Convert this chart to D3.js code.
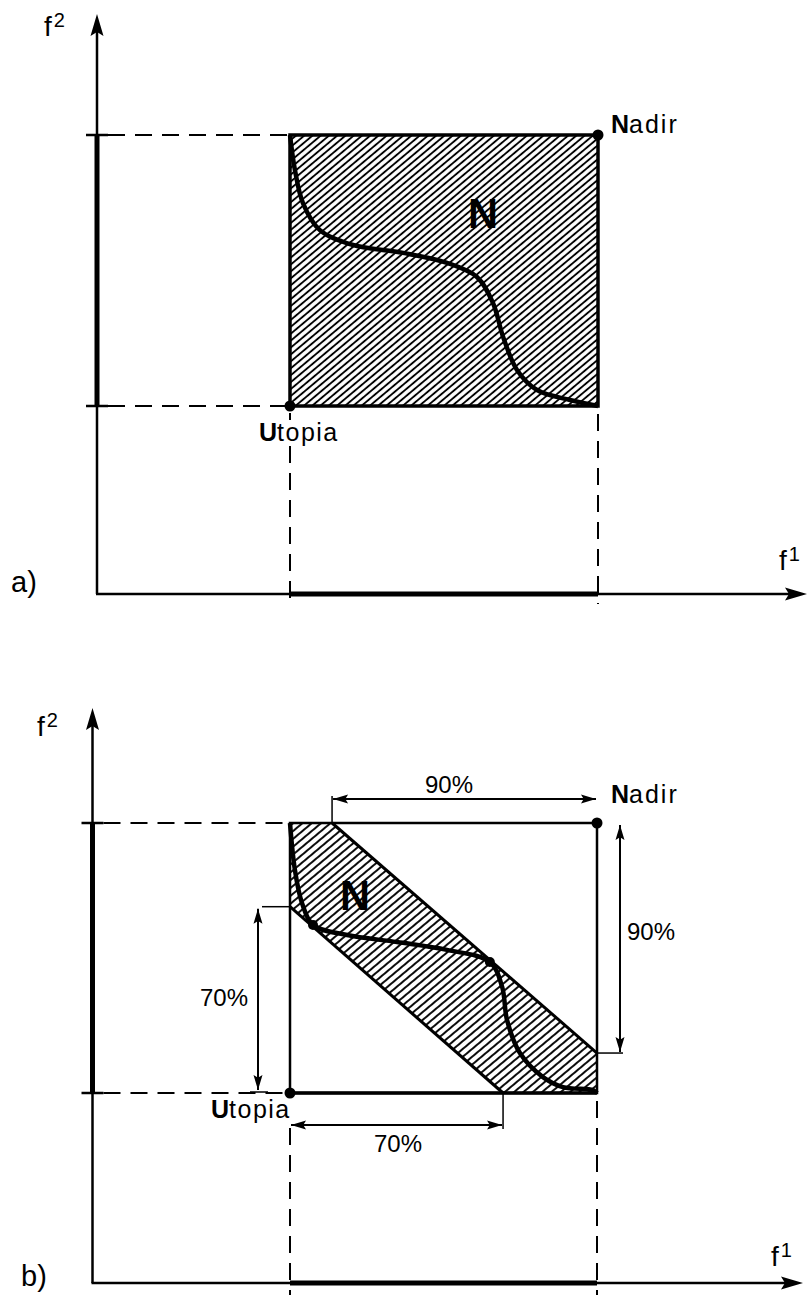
<!DOCTYPE html>
<html>
<head>
<meta charset="utf-8">
<script src="https://cdn.jsdelivr.net/npm/d3@7"></script>
<style>
body { margin: 0; background: #fff; }
svg { display: block; font-family: "Liberation Sans", Arial, sans-serif; }
</style>
</head>
<body>
<script>
var W = 808, H = 1295;

// objective space normalised so Utopia = (0,0) and Nadir = (1,1)
var corners = [0, 1];

// efficient (Pareto) curve read off panel a)
var curveA = [[0, 1], [0.016, 0.871], [0.042, 0.749], [0.097, 0.649], [0.205, 0.594],
  [0.367, 0.565], [0.510, 0.528], [0.607, 0.476], [0.659, 0.380], [0.692, 0.255],
  [0.737, 0.133], [0.802, 0.059], [0.909, 0.022], [1, 0]];

// same curve as drawn in panel b)
var curveB = [[0, 1], [0.016, 0.826], [0.039, 0.704], [0.075, 0.622], [0.186, 0.585],
  [0.349, 0.559], [0.511, 0.530], [0.651, 0.485], [0.691, 0.393], [0.707, 0.270],
  [0.749, 0.148], [0.824, 0.059], [0.889, 0.022], [0.987, 0.011], [1, 0]];

var cut90 = [[0.137, 1], [1, 0.148]];   // upper cut (90%)
var cut70 = [[0, 0.69], [0.694, 0]];    // lower cut (70%)
var cutDots = [[0.075, 0.622], [0.651, 0.485]];
var dimTexts = ['90%', '90%', '70%', '70%'];
var panelNames = ['a)', 'b)'];

var svg = d3.select('body').append('svg')
  .attr('width', W)
  .attr('height', H);

var defs = svg.append('defs');

function hatch(id, gap, w) {
  var p = defs.append('pattern')
    .attr('id', id)
    .attr('patternUnits', 'userSpaceOnUse')
    .attr('width', 20)
    .attr('height', gap)
    .attr('patternTransform', 'rotate(-40)');
  p.append('rect').attr('width', 20).attr('height', gap).attr('fill', '#fff');
  p.append('line')
    .attr('x1', 0).attr('x2', 20)
    .attr('y1', gap / 2).attr('y2', gap / 2)
    .attr('stroke', '#000').attr('stroke-width', w);
}
hatch('hatchA', 5.3, 1.9);
hatch('hatchB', 6.0, 1.9);

// filled arrow head, ang = direction the tip points to
function head(g, x, y, ang, len, half) {
  var c = Math.cos(ang), s = Math.sin(ang);
  var bx = x - c * len, by = y - s * len;
  var n = len * 0.82;
  var d = 'M' + x + ',' + y +
    'L' + (bx - s * half) + ',' + (by + c * half) +
    'L' + (x - c * n) + ',' + (y - s * n) +
    'L' + (bx + s * half) + ',' + (by - c * half) + 'Z';
  g.append('path').attr('d', d).attr('fill', '#000');
}

function seg(g, x1, y1, x2, y2, w) {
  return g.append('line')
    .attr('x1', x1).attr('y1', y1)
    .attr('x2', x2).attr('y2', y2)
    .attr('stroke', '#000')
    .attr('stroke-width', w);
}

function dimArrow(g, x1, y1, x2, y2) {
  seg(g, x1, y1, x2, y2, 2);
  var a = Math.atan2(y2 - y1, x2 - x1);
  head(g, x2, y2, a, 15, 4.5);
  head(g, x1, y1, a + Math.PI, 15, 4.5);
}

var panels = [
  { left: 290, right: 598, bottom: 406, top: 135, axX: 97, axY: 594, yTip: 14, xTip: 807,
    vStart: 446, vEnd: 604, hatch: 'hatchA', curve: curveA,
    f2: [44, 36], f1: [779, 570], name: [11, 592],
    nadir: [611, 133], utopia: [259, 441], N: [483, 228] },
  { left: 290, right: 597, bottom: 1093, top: 823, axX: 92.5, axY: 1283, yTip: 708, xTip: 803,
    vStart: 1128, vEnd: 1295, hatch: 'hatchB', curve: curveB,
    f2: [37, 736], f1: [771, 1266], name: [21, 1286],
    nadir: [611, 803], utopia: [211, 1118], N: [355, 910] }
];

panels.forEach(function(P, i) {
  var x = d3.scaleLinear().domain(corners).range([P.left, P.right]);
  var y = d3.scaleLinear().domain(corners).range([P.bottom, P.top]);
  var g = svg.append('g');

  // dashed guide lines
  var dash = g.append('g')
    .attr('stroke', '#000')
    .attr('stroke-width', 2)
    .attr('stroke-dasharray', '17,10');
  corners.forEach(function(v) {
    dash.append('line')
      .attr('x1', P.axX + 11).attr('x2', x(0) - 3)
      .attr('y1', y(v)).attr('y2', y(v));
  });
  dash.append('line').attr('x1', x(0)).attr('x2', x(0)).attr('y1', P.vStart).attr('y2', P.vEnd);
  dash.append('line').attr('x1', x(1)).attr('x2', x(1)).attr('y1', y(0) + 8).attr('y2', P.vEnd);
  if (i == 0) {
    seg(g, x(0), y(0) + 7, x(0), y(0) + 14, 2);
  }

  // axes
  seg(g, P.axX, P.axY, P.axX, P.yTip + 15, 2.5);
  seg(g, P.axX - 1, P.axY, P.xTip - 15, P.axY, 2.5);
  head(g, P.axX, P.yTip, -Math.PI / 2, 22, 6.5);
  head(g, P.xTip, P.axY, 0, 22, 6.5);
  seg(g, P.axX, y(0), P.axX, y(1), 5);
  seg(g, x(0), P.axY, x(1), P.axY, 5);
  corners.forEach(function(v) {
    seg(g, P.axX - 11, y(v), P.axX + 11, y(v), 2.5);
  });

  var line = d3.line()
    .x(function(d) { return x(d[0]); })
    .y(function(d) { return y(d[1]); });

  if (i == 0) {
    g.append('rect')
      .attr('x', x(0)).attr('y', y(1))
      .attr('width', x(1) - x(0)).attr('height', y(0) - y(1))
      .attr('fill', 'url(#' + P.hatch + ')')
      .attr('stroke', '#000').attr('stroke-width', 3.5);
  } else {
    var band = [[0, 1], cut90[0], cut90[1], [1, 0], cut70[1], cut70[0]];
    g.append('path')
      .attr('d', line(band) + 'Z')
      .attr('fill', 'url(#' + P.hatch + ')');
    [cut90, cut70].forEach(function(c) {
      g.append('path').attr('d', line(c))
        .attr('fill', 'none').attr('stroke', '#000').attr('stroke-width', 3);
    });
    g.append('rect')
      .attr('x', x(0)).attr('y', y(1))
      .attr('width', x(1) - x(0)).attr('height', y(0) - y(1))
      .attr('fill', 'none')
      .attr('stroke', '#000').attr('stroke-width', 2.5);
    seg(g, x(0), y(0), x(1), y(0), 3.5);
  }

  g.append('path')
    .attr('d', line.curve(d3.curveCatmullRom.alpha(0.5))(P.curve))
    .attr('fill', 'none')
    .attr('stroke', '#000')
    .attr('stroke-width', 4.5);

  // Utopia / Nadir points
  g.selectAll('circle.corner')
    .data([[0, 0], [1, 1]])
    .enter()
      .append('circle')
      .attr('cx', function(d) { return x(d[0]); })
      .attr('cy', function(d) { return y(d[1]); })
      .attr('r', 5.5)
      .attr('fill', '#000');

  if (i == 1) {
    g.selectAll('circle.cut')
      .data(cutDots)
      .enter()
        .append('circle')
        .attr('cx', function(d) { return x(d[0]); })
        .attr('cy', function(d) { return y(d[1]); })
        .attr('r', 5)
        .attr('fill', '#000');

    // dimension lines
    var tx = x(cut90[0][0]);
    seg(g, tx, y(1), tx, y(1) - 27, 1.5);
    dimArrow(g, tx + 1, y(1) - 24, x(1) - 1, y(1) - 24);
    var ry = y(cut90[1][1]);
    seg(g, x(1), ry, x(1) + 26, ry, 1.5);
    dimArrow(g, x(1) + 23, y(1) + 2, x(1) + 23, ry - 1);
    var ly = y(cut70[0][1]);
    seg(g, x(0) - 28, ly, x(0), ly, 1.5);
    seg(g, x(0) - 40, y(0) - 1, x(0) - 22, y(0) - 1, 1.5);
    dimArrow(g, x(0) - 32, ly + 2, x(0) - 32, y(0) - 3);
    var bx = x(cut70[1][0]);
    seg(g, bx, y(0), bx, y(0) + 36, 1.5);
    dimArrow(g, x(0) + 1, y(0) + 32, bx - 1, y(0) + 32);

    var dimPos = [[449, 793, 'middle'], [627, 940, 'start'], [200, 1006, 'start'], [398, 1152, 'middle']];
    g.selectAll('text.dim')
      .data(dimTexts)
      .enter()
        .append('text')
        .attr('x', function(d, k) { return dimPos[k][0]; })
        .attr('y', function(d, k) { return dimPos[k][1]; })
        .attr('text-anchor', function(d, k) { return dimPos[k][2]; })
        .attr('font-size', 24)
        .text(function(d) { return d; });
  }

  // region label N
  g.append('text')
    .attr('x', P.N[0]).attr('y', P.N[1])
    .attr('text-anchor', 'middle')
    .attr('font-size', 42)
    .attr('font-weight', 'bold')
    .attr('textLength', 30)
    .attr('lengthAdjust', 'spacingAndGlyphs')
    .attr('fill', '#000')
    .text('N');

  var nad = g.append('text').attr('x', P.nadir[0]).attr('y', P.nadir[1]).attr('font-size', 25);
  nad.append('tspan').attr('font-weight', 'bold').text('N');
  nad.append('tspan').attr('letter-spacing', 2).text('adir');

  var uto = g.append('text').attr('x', P.utopia[0]).attr('y', P.utopia[1]).attr('font-size', 25)
    .attr('fill', '#000');
  uto.append('tspan').attr('font-weight', 'bold').text('U');
  uto.append('tspan').attr('letter-spacing', 1.5).text('topia');

  var f2 = g.append('text').attr('x', P.f2[0]).attr('y', P.f2[1]).attr('font-size', 28);
  f2.append('tspan').text('f');
  f2.append('tspan').attr('font-size', 20).attr('dy', -9).attr('dx', 2).text('2');

  var f1 = g.append('text').attr('x', P.f1[0]).attr('y', P.f1[1]).attr('font-size', 28);
  f1.append('tspan').text('f');
  f1.append('tspan').attr('font-size', 20).attr('dy', -9).attr('dx', 2).text('1');

  g.append('text')
    .attr('x', P.name[0]).attr('y', P.name[1])
    .attr('font-size', 29)
    .text(panelNames[i]);
});
</script>
</body>
</html>
